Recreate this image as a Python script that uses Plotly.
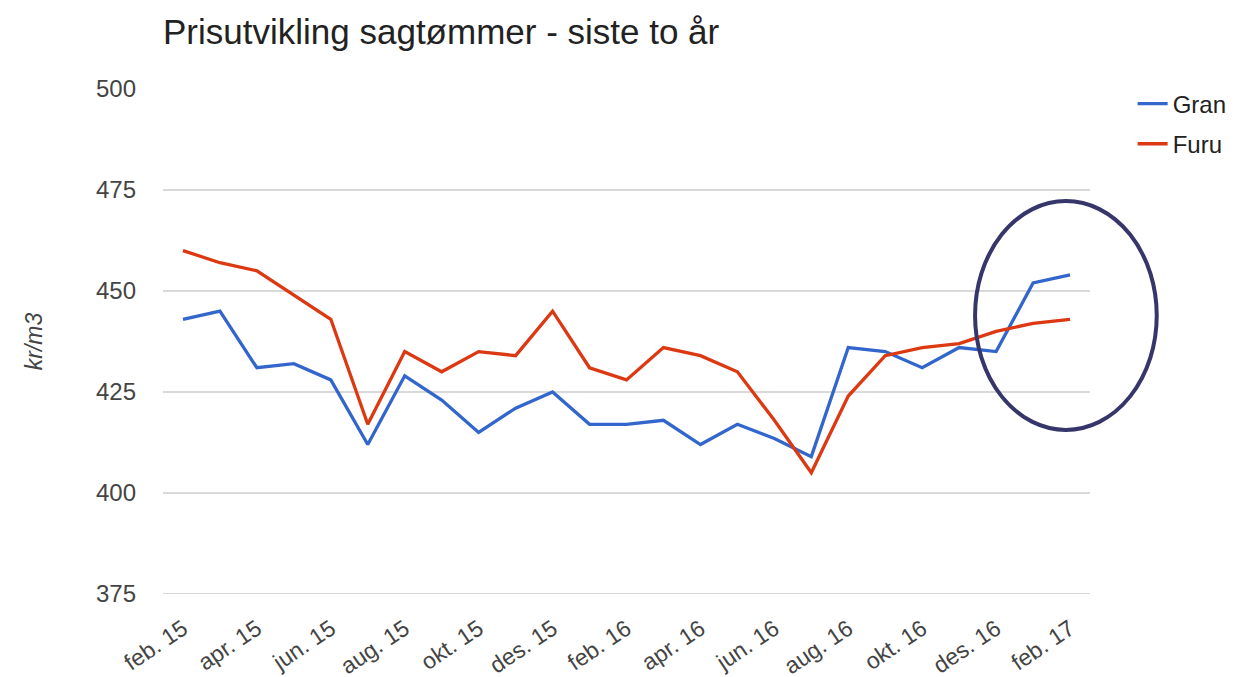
import plotly.graph_objects as go

months = [
    "feb. 15", "mar. 15", "apr. 15", "mai 15", "jun. 15", "jul. 15",
    "aug. 15", "sep. 15", "okt. 15", "nov. 15", "des. 15", "jan. 16",
    "feb. 16", "mar. 16", "apr. 16", "mai 16", "jun. 16", "jul. 16",
    "aug. 16", "sep. 16", "okt. 16", "nov. 16", "des. 16", "jan. 17",
    "feb. 17",
]
gran = [443, 445, 431, 432, 428, 412, 429, 423, 415, 421, 425, 417,
        417, 418, 412, 417, 413.5, 409, 436, 435, 431, 436, 435, 452, 454]
furu = [460, 457, 455, 449, 443, 417, 435, 430, 435, 434, 445, 431,
        428, 436, 434, 430, 418, 405, 424, 434, 436, 437, 440, 442, 443]

y_ticks = [375, 400, 425, 450, 475, 500]
grid_vals = [375, 400, 425, 450, 475]
shown_months = months[::2]

fig = go.Figure()
fig.add_trace(go.Scatter(x=months, y=gran, name="Gran", mode="lines", legendgroup="gran",
                         line=dict(color="#3366cc", width=3.3)))
fig.add_trace(go.Scatter(x=months, y=furu, name="Furu", mode="lines", legendgroup="furu",
                         line=dict(color="#dc3912", width=3.3)))

# gridlines (no line at 500 in the original)
for v in grid_vals:
    fig.add_shape(type="line", xref="paper", yref="y", x0=0, x1=1, y0=v, y1=v,
                  line=dict(color="#cccccc", width=1.5), layer="below")

# highlight ring around the last months
fig.add_shape(type="circle", xref="paper", yref="paper",
              x0=0.876, x1=1.072, y0=0.325, y1=0.778,
              line=dict(color="#36366a", width=4))

fig.update_layout(
    width=1243, height=677,
    margin=dict(l=155, r=161, t=81, b=91),
    paper_bgcolor="white", plot_bgcolor="white",
    font=dict(family="Liberation Sans, Arial, sans-serif", size=24, color="#444444"),
    title=dict(text="Prisutvikling sagtømmer - siste to år",
               x=155 / 1243, xanchor="left", y=1 - 24 / 677, yanchor="middle",
               font=dict(size=35, color="#222222")),
    legend=dict(x=1.046, y=1.015, xanchor="left", yanchor="top",
                font=dict(size=24, color="#222222"), tracegroupgap=6),
    showlegend=True,
)
fig.update_xaxes(
    type="category", range=[-0.54, 24.54],
    tickvals=shown_months, ticktext=shown_months, automargin=False,
    tickangle=-34, showgrid=False, zeroline=False, showline=False,
    ticklabelstandoff=16, tickfont=dict(size=23, color="#444444"),
)
fig.update_yaxes(
    range=[375, 500], tickvals=y_ticks, showgrid=False, zeroline=False,
    ticklabelstandoff=26, tickfont=dict(size=24, color="#444444"),
    title=dict(text="<i>kr/m3</i>", font=dict(size=23, color="#444444"), standoff=46),
)

fig.write_html("out.html")
